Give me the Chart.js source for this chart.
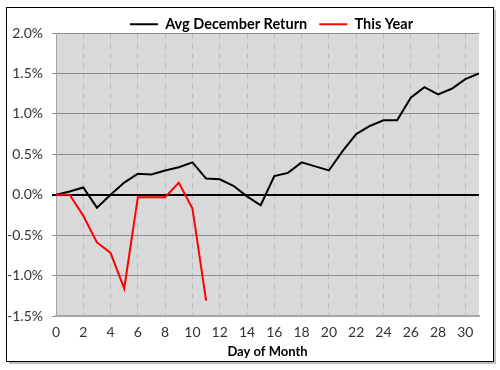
<!DOCTYPE html>
<html>
<head>
<meta charset="utf-8">
<script src="https://cdn.jsdelivr.net/npm/chart.js@4"></script>
<style>
  body { margin: 0; background: #fff; }
</style>
</head>
<body>
<canvas id="decChart" width="500" height="370"></canvas>
<script>
const days = [0, 1, 2, 3, 4, 5, 6, 7, 8, 9, 10, 11, 12, 13, 14, 15, 16, 17, 18, 19, 20, 21, 22, 23, 24, 25, 26, 27, 28, 29, 30, 31];
const avgDecember = [0, 0.04, 0.09, -0.16, 0.0, 0.15, 0.26, 0.25, 0.30, 0.34, 0.40, 0.20, 0.19, 0.11, -0.02, -0.13, 0.23, 0.27, 0.40, 0.35, 0.30, 0.54, 0.75, 0.85, 0.92, 0.92, 1.20, 1.33, 1.24, 1.31, 1.43, 1.50];
const thisYear = [0, 0, -0.26, -0.59, -0.72, -1.16, -0.03, -0.03, -0.03, 0.15, -0.17, -1.31];

const toPoints = (vals) => vals.map((v, i) => ({ x: days[i], y: v }));

const plotBg = {
  id: "plotBg",
  afterLayout(chart) {
    // legend sits centred over the plot area, not the whole canvas
    chart.legend.left = 64;
  },
  beforeDraw(chart) {
    const { ctx, chartArea: a } = chart;
    ctx.save();
    // outer frame with a small shadow
    ctx.fillStyle = "#bfbfbf";
    ctx.fillRect(9, 10, 487, 354);
    ctx.fillStyle = "#fff";
    ctx.fillRect(6, 7, 488, 355);
    ctx.strokeStyle = "#000";
    ctx.lineWidth = 1;
    ctx.strokeRect(6.5, 7.5, 487, 354);
    ctx.fillStyle = "#d9d9d9";
    ctx.fillRect(a.left, a.top, a.right - a.left, a.bottom - a.top);
    ctx.restore();
  },
};

const ctx = document.getElementById("decChart").getContext("2d");
new Chart(ctx, {
  type: "line",
  data: {
    datasets: [
      {
        label: "Avg December Return",
        data: toPoints(avgDecember),
        borderColor: "#000",
        borderWidth: 2,
        pointRadius: 0,
        order: 1,
      },
      {
        label: "This Year",
        data: toPoints(thisYear),
        borderColor: "#ff0000",
        borderWidth: 2,
        pointRadius: 0,
        order: 0,
      },
    ],
  },
  options: {
    responsive: false,
    animation: false,
    layout: {
      padding: { left: 0, right: 21, top: 5, bottom: 10 },
    },
    plugins: {
      legend: {
        position: "top",
        maxHeight: 28,
        labels: {
          usePointStyle: true,
          pointStyle: "line",
          pointStyleWidth: 28,
          boxHeight: 14,
          padding: 12,
          color: "#000",
          font: { family: "Lato", size: 14.5, weight: "bold", lineHeight: 1 },
          sort: (a, b) => a.datasetIndex - b.datasetIndex,
        },
      },
      tooltip: { enabled: false },
    },
    scales: {
      x: {
        type: "linear",
        min: 0,
        max: 31,
        ticks: {
          stepSize: 2,
          includeBounds: false,
          color: "#333",
          padding: 8,
          font: { family: "Lato", size: 14 },
        },
        grid: {
          color: (c) => (c.tick && c.tick.value === 0 ? "rgba(0,0,0,0)" : "#bdbdbd"),
          lineWidth: 1,
          drawTicks: false,
        },
        border: { dash: [6, 4], color: "#a6a6a6", width: 2 },
        title: {
          display: true,
          text: "Day of Month",
          color: "#000",
          font: { family: "Lato", size: 13, weight: "bold" },
          padding: { top: 4, bottom: 0 },
        },
        afterFit(scale) {
          scale.height = 44;
        },
      },
      y: {
        min: -1.5,
        max: 2.0,
        ticks: {
          stepSize: 0.5,
          color: "#333",
          padding: 9,
          font: { family: "Lato", size: 14 },
          callback: (v) => v.toFixed(1) + "%",
        },
        grid: {
          color: (c) => (c.tick && c.tick.value === 0 ? "#000" : "#8c8c8c"),
          lineWidth: (c) => (c.tick && c.tick.value === 0 ? 2 : 1),
          tickLength: 4,
        },
        border: { color: "#a6a6a6", width: 1 },
        afterFit(scale) {
          scale.width = 56;
        },
      },
    },
  },
  plugins: [plotBg],
});
</script>
</body>
</html>
